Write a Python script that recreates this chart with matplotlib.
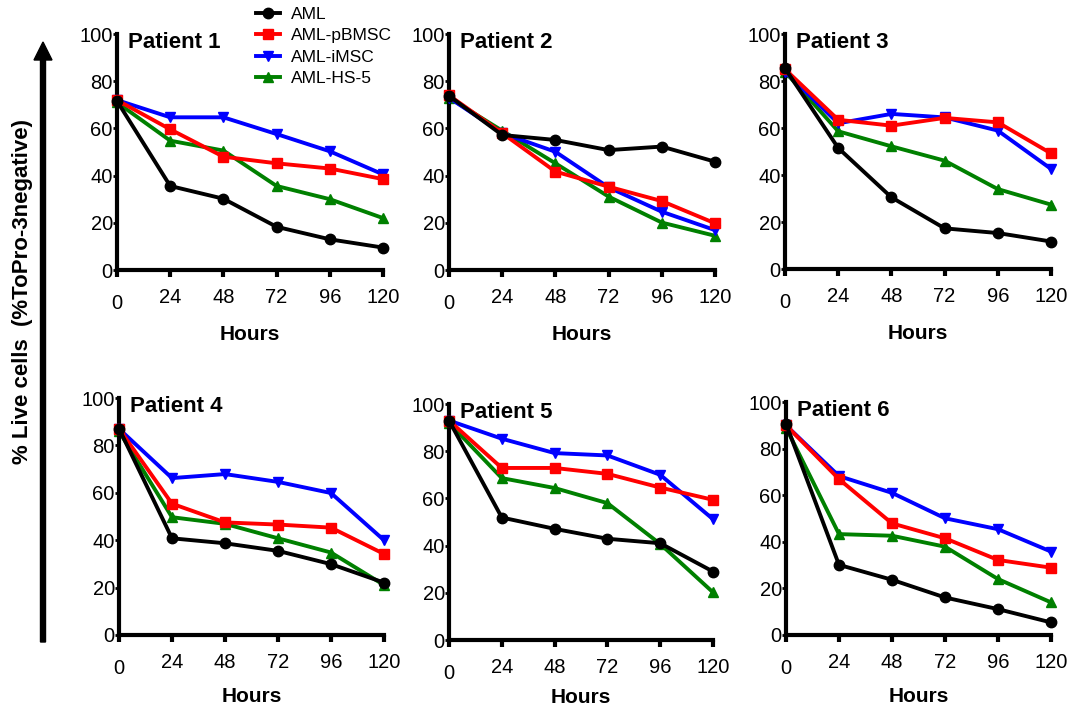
import matplotlib
matplotlib.use("Agg")
import matplotlib.pyplot as plt
from matplotlib.lines import Line2D

plt.rcParams["font.family"] = ["Liberation Sans", "DejaVu Sans"]

hours = [0, 24, 48, 72, 96, 120]
series_names = ["AML", "AML-pBMSC", "AML-iMSC", "AML-HS-5"]
series_colors = ["black", "#ff0000", "#0000ff", "#008000"]
series_markers = ["o", "s", "v", "^"]

patients = ["Patient 1", "Patient 2", "Patient 3", "Patient 4", "Patient 5", "Patient 6"]

# % live cells per patient, order: AML, AML-pBMSC, AML-iMSC, AML-HS-5
p1 = [[71.6, 35.6, 30.2, 18.3, 13.0, 9.5],
      [72.0, 59.6, 48.0, 45.2, 43.0, 38.5],
      [72.0, 64.7, 64.7, 57.6, 50.3, 40.5],
      [71.0, 54.8, 50.6, 35.6, 30.0, 22.0]]
p2 = [[73.8, 57.2, 55.1, 50.8, 52.3, 45.9],
      [74.0, 58.0, 41.7, 35.3, 29.2, 19.8],
      [73.0, 58.0, 50.1, 35.0, 24.7, 16.9],
      [73.0, 59.0, 45.2, 31.1, 20.1, 14.5]]
p3 = [[85.4, 51.5, 30.5, 17.3, 15.3, 11.7],
      [85.0, 63.5, 61.0, 64.3, 62.4, 49.2],
      [84.0, 62.0, 66.0, 64.5, 58.9, 42.6],
      [84.0, 58.6, 52.2, 46.1, 34.0, 27.4]]
p4 = [[87.1, 40.8, 38.7, 35.5, 29.9, 22.1],
      [87.0, 55.4, 47.5, 46.6, 45.3, 34.2],
      [87.0, 66.2, 67.9, 64.6, 59.9, 40.0],
      [86.0, 49.7, 46.9, 40.8, 34.8, 21.1]]
p5 = [[93.0, 51.9, 47.1, 42.9, 41.0, 29.0],
      [93.0, 72.9, 72.9, 70.4, 64.6, 59.4],
      [93.0, 85.3, 79.2, 78.2, 70.0, 51.2],
      [92.0, 68.6, 64.4, 58.0, 40.7, 20.2]]
p6 = [[90.7, 30.1, 23.7, 16.1, 11.1, 5.4],
      [90.0, 66.9, 47.9, 41.5, 32.2, 28.9],
      [90.0, 68.2, 61.0, 50.1, 45.4, 35.8],
      [89.0, 43.3, 42.6, 37.9, 24.0, 14.0]]
all_data = [p1, p2, p3, p4, p5, p6]

W, H = 1077, 709
fig = plt.figure(figsize=(W / 100, H / 100), dpi=100)

# axes boxes in pixels: left, top, right, bottom
boxes = [(117, 34, 383, 270), (449, 34, 715, 270), (785, 34, 1051, 269),
         (119, 398, 384, 635), (449, 404, 713, 640), (786, 402, 1051, 635)]
label_pads = [9, 9, 9, 7, 4, 7]

z_order = [5, 4, 3, 2]

for box, name, data, lp in zip(boxes, patients, all_data, label_pads):
    l, t, r, b = box
    ax = fig.add_axes([l / W, 1 - b / H, (r - l) / W, (b - t) / H])
    for vals, c, m, z in zip(data, series_colors, series_markers, z_order):
        ax.plot(hours, vals, color=c, marker=m, lw=2.8, ms=7.5,
                markeredgecolor=c, zorder=z, clip_on=False)
    ax.set_xlim(0, 120)
    ax.set_ylim(0, 100)
    ax.set_xticks(hours)
    ax.set_yticks([0, 20, 40, 60, 80, 100])
    for side in ["top", "right"]:
        ax.spines[side].set_visible(False)
    for side in ["left", "bottom"]:
        ax.spines[side].set_linewidth(3)
    ax.tick_params(axis="x", direction="out", length=5, width=3, pad=8,
                   labelsize=14.5)
    ax.tick_params(axis="y", direction="out", length=3, width=2, pad=0,
                   labelsize=14.5)
    ax.xaxis.get_major_ticks()[0].set_pad(12)
    ax.set_xlabel("Hours", fontsize=15, fontweight="bold", labelpad=lp)
    ax.text(0.04, 1.01, name, transform=ax.transAxes, fontsize=16,
            fontweight="bold", va="top", ha="left")

# legend
handles = [Line2D([], [], color=c, marker=m, lw=2.8, ms=7.5)
           for c, m in zip(series_colors, series_markers)]
fig.legend(handles, series_names, loc="upper left",
           bbox_to_anchor=(256 / W, 1 - 7 / H), frameon=False,
           fontsize=12.5, borderpad=0, borderaxespad=0,
           handlelength=1.4, handletextpad=0.6, labelspacing=0.35)

# y label with arrow
fig.text(23 / W, 1 - 292 / H, "% Live cells  (%ToPro-3negative)",
         rotation=90, fontsize=16, fontweight="bold", ha="center", va="center")
fig.patches.append(matplotlib.patches.FancyArrow(
    43 / W, 1 - 642 / H, 0, (642 - 42) / H, width=5 / W,
    head_width=18 / W, head_length=18 / H, length_includes_head=True,
    color="black", transform=fig.transFigure, figure=fig))

fig.savefig("out.png", dpi=100)
